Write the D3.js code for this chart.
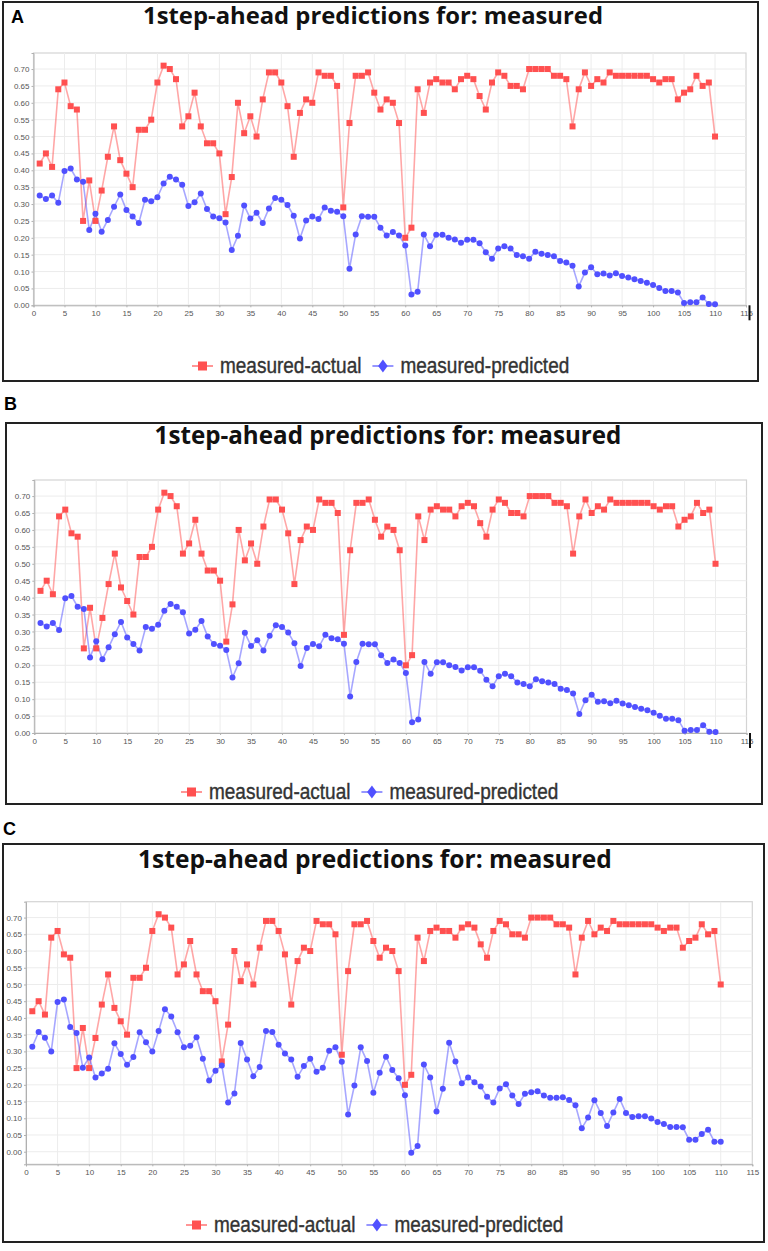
<!DOCTYPE html>
<html>
<head>
<meta charset="utf-8">
<script src="https://cdn.jsdelivr.net/npm/d3@7"></script>
<style>
  body { margin: 0; background: #fff; }
  svg { display: block; }
</style>
</head>
<body>
<div id="chart"></div>
<script>
// values, step 1..110
const measuredActual = [
  0.42, 0.45, 0.41, 0.64, 0.66, 0.59, 0.58, 0.25, 0.37, 0.25,
  0.34, 0.44, 0.53, 0.43, 0.39, 0.35, 0.52, 0.52, 0.55, 0.66,
  0.71, 0.70, 0.67, 0.53, 0.56, 0.63, 0.53, 0.48, 0.48, 0.45,
  0.27, 0.38, 0.60, 0.51, 0.56, 0.50, 0.61, 0.69, 0.69, 0.66,
  0.59, 0.44, 0.57, 0.61, 0.60, 0.69, 0.68, 0.68, 0.65, 0.29,
  0.54, 0.68, 0.68, 0.69, 0.63, 0.58, 0.61, 0.60, 0.54, 0.20,
  0.23, 0.64, 0.57, 0.66, 0.67, 0.66, 0.66, 0.64, 0.67, 0.68,
  0.67, 0.62, 0.58, 0.66, 0.69, 0.68, 0.65, 0.65, 0.64, 0.70,
  0.70, 0.70, 0.70, 0.68, 0.68, 0.67, 0.53, 0.64, 0.69, 0.65,
  0.67, 0.66, 0.69, 0.68, 0.68, 0.68, 0.68, 0.68, 0.68, 0.67,
  0.66, 0.67, 0.67, 0.61, 0.63, 0.64, 0.68, 0.65, 0.66, 0.50
];

const predictedA = [
  0.325, 0.315, 0.325, 0.304, 0.398, 0.405, 0.373, 0.366, 0.223, 0.271,
  0.218, 0.253, 0.292, 0.328, 0.282, 0.263, 0.244, 0.313, 0.308, 0.320,
  0.361, 0.381, 0.373, 0.357, 0.294, 0.305, 0.331, 0.285, 0.263, 0.258,
  0.245, 0.164, 0.206, 0.296, 0.257, 0.274, 0.244, 0.287, 0.318, 0.313,
  0.297, 0.265, 0.198, 0.251, 0.263, 0.256, 0.290, 0.280, 0.277, 0.264,
  0.108, 0.210, 0.264, 0.262, 0.262, 0.230, 0.207, 0.217, 0.207, 0.177,
  0.032, 0.040, 0.210, 0.175, 0.209, 0.209, 0.200, 0.195, 0.185, 0.194,
  0.194, 0.184, 0.157, 0.138, 0.168, 0.175, 0.168, 0.149, 0.145, 0.138,
  0.159, 0.153, 0.149, 0.145, 0.131, 0.127, 0.117, 0.056, 0.097, 0.113,
  0.092, 0.094, 0.088, 0.095, 0.087, 0.082, 0.077, 0.072, 0.067, 0.060,
  0.051, 0.042, 0.042, 0.038, 0.007, 0.009, 0.009, 0.023, 0.004, 0.003
];

// panel B shows the same predicted curve as panel A
const predictedB = predictedA;

const predictedC = [
  0.314, 0.358, 0.341, 0.300, 0.448, 0.455, 0.373, 0.355, 0.251, 0.282,
  0.222, 0.234, 0.248, 0.324, 0.292, 0.260, 0.283, 0.357, 0.327, 0.300,
  0.361, 0.426, 0.404, 0.357, 0.312, 0.317, 0.342, 0.278, 0.213, 0.242,
  0.258, 0.147, 0.174, 0.325, 0.276, 0.226, 0.253, 0.361, 0.358, 0.320,
  0.294, 0.276, 0.224, 0.256, 0.278, 0.239, 0.251, 0.302, 0.312, 0.269,
  0.111, 0.198, 0.312, 0.271, 0.176, 0.236, 0.284, 0.244, 0.220, 0.169,
  -0.003, 0.017, 0.261, 0.222, 0.120, 0.188, 0.326, 0.270, 0.205, 0.222,
  0.208, 0.195, 0.164, 0.147, 0.189, 0.202, 0.168, 0.143, 0.173, 0.178,
  0.181, 0.168, 0.161, 0.161, 0.163, 0.155, 0.139, 0.070, 0.102, 0.154,
  0.116, 0.077, 0.117, 0.158, 0.116, 0.104, 0.106, 0.106, 0.099, 0.089,
  0.083, 0.074, 0.074, 0.073, 0.036, 0.036, 0.053, 0.066, 0.030, 0.030
];

const xTicks = [0, 5, 10, 15, 20, 25, 30, 35, 40, 45, 50, 55, 60, 65, 70, 75, 80, 85, 90, 95, 100, 105, 110, 115];
const yTicks = [0.00, 0.05, 0.10, 0.15, 0.20, 0.25, 0.30, 0.35, 0.40, 0.45, 0.50, 0.55, 0.60, 0.65, 0.70];
const seriesNames = ["measured-actual", "measured-predicted"];
const titleText = "1step-ahead predictions for: measured";

const red = "#ff5050", blue = "#5050ff";

// layout of the three panels (pixels)
const panels = [
  { label: "A", predicted: predictedA, yMin: 0,
    box: [3, 2, 755, 379], plot: { x0: 33.5, x1: 746, yb: 305.3, yt: 53 },
    title: [373, 24, 460], lab: [11, 23], legend: [192, 366], bar: true },
  { label: "B", predicted: predictedB, yMin: 0,
    box: [6, 423, 756, 381], plot: { x0: 34.3, x1: 746.5, yb: 733, yt: 480 },
    title: [388, 444, 467], lab: [4, 410], legend: [181, 792], bar: true },
  { label: "C", predicted: predictedC, yMin: -0.0376,
    box: [3, 844, 761, 398], plot: { x0: 26, x1: 752.3, yb: 1164.3, yt: 901.7 },
    title: [375, 868, 474], lab: [3, 835], legend: [186, 1225], bar: false }
];

const svg = d3.select("#chart").append("svg")
    .attr("width", 768)
    .attr("height", 1251);

panels.forEach(p => {
  const g = svg.append("g");

  // panel frame
  g.append("rect")
      .attr("x", p.box[0]).attr("y", p.box[1])
      .attr("width", p.box[2]).attr("height", p.box[3])
      .attr("fill", "#fff").attr("stroke", "#222").attr("stroke-width", 2);

  // panel letter
  svg.append("text")
      .attr("x", p.lab[0]).attr("y", p.lab[1])
      .style("font-family", "Liberation Sans, Arial, sans-serif")
      .style("font-weight", "bold").style("font-size", "18px")
      .text(p.label);

  // title, sized to the width seen in the picture
  const title = g.append("text")
      .attr("x", p.title[0]).attr("y", p.title[1])
      .attr("text-anchor", "middle")
      .style("font-family", "Open Sans, sans-serif")
      .style("font-weight", "bold").style("font-size", "20px")
      .attr("fill", "#111")
      .text(titleText);
  const tw = title.node().getComputedTextLength();
  title.style("font-size", (20 * p.title[2] / tw).toFixed(2) + "px");

  const x = d3.scaleLinear().domain([0, 115]).range([p.plot.x0, p.plot.x1]);
  const y = d3.scaleLinear().domain([p.yMin, 0.7475]).range([p.plot.yb, p.plot.yt]);

  // plot background and grid
  g.append("rect")
      .attr("x", p.plot.x0).attr("y", p.plot.yt)
      .attr("width", p.plot.x1 - p.plot.x0).attr("height", p.plot.yb - p.plot.yt)
      .attr("fill", "#fff").attr("stroke", "#d4d4d4").attr("stroke-width", 1.2);

  g.append("g").selectAll("line").data(xTicks.slice(1, -1)).join("line")
      .attr("x1", d => x(d)).attr("x2", d => x(d))
      .attr("y1", p.plot.yt).attr("y2", p.plot.yb)
      .attr("stroke", "#ececec").attr("stroke-width", 1);
  g.append("g").selectAll("line").data(yTicks).join("line")
      .attr("x1", p.plot.x0).attr("x2", p.plot.x1)
      .attr("y1", d => y(d)).attr("y2", d => y(d))
      .attr("stroke", "#ececec").attr("stroke-width", 1);

  // axes
  const xAxis = g.append("g")
      .attr("transform", "translate(0," + p.plot.yb + ")")
      .call(d3.axisBottom(x).tickValues(xTicks).tickSize(2).tickPadding(3).tickFormat(d3.format("d")));
  const yAxis = g.append("g")
      .attr("transform", "translate(" + p.plot.x0 + ",0)")
      .call(d3.axisLeft(y).tickValues(yTicks).tickSize(2).tickPadding(2).tickFormat(d3.format(".2f")));
  [xAxis, yAxis].forEach(a => {
    a.select(".domain").attr("stroke", "#b0b0b0");
    a.selectAll(".tick line").attr("stroke", "#b0b0b0");
    a.selectAll(".tick text")
        .attr("fill", "#555")
        .style("font-family", "Liberation Sans, Arial, sans-serif")
        .style("font-size", "8px");
  });

  if (p.bar) {
    g.append("line")
        .attr("x1", x(115) + 3.5).attr("x2", x(115) + 3.5)
        .attr("y1", p.plot.yb).attr("y2", p.plot.yb + 15)
        .attr("stroke", "#111").attr("stroke-width", 2);
  }

  const line = d3.line().x((d, i) => x(i + 1)).y(d => y(d));

  // actual series
  g.append("path").datum(measuredActual)
      .attr("d", line).attr("fill", "none")
      .attr("stroke", red).attr("stroke-opacity", 0.5).attr("stroke-width", 1.6);
  // predicted series
  g.append("path").datum(p.predicted)
      .attr("d", line).attr("fill", "none")
      .attr("stroke", blue).attr("stroke-opacity", 0.5).attr("stroke-width", 1.6);

  g.append("g").selectAll("rect").data(measuredActual).join("rect")
      .attr("x", (d, i) => x(i + 1) - 3).attr("y", d => y(d) - 3)
      .attr("width", 6).attr("height", 6)
      .attr("fill", red);
  g.append("g").selectAll("circle").data(p.predicted).join("circle")
      .attr("cx", (d, i) => x(i + 1)).attr("cy", d => y(d))
      .attr("r", 3).attr("fill", blue);

  // legend
  const lg = g.append("g").attr("transform", "translate(" + p.legend[0] + "," + p.legend[1] + ")");
  let cx = 0;
  seriesNames.forEach((name, k) => {
    const col = k === 0 ? red : blue;
    lg.append("line")
        .attr("x1", cx).attr("x2", cx + 21).attr("y1", 0).attr("y2", 0)
        .attr("stroke", col).attr("stroke-opacity", 0.6).attr("stroke-width", 2);
    if (k === 0) {
      lg.append("rect").attr("x", cx + 6).attr("y", -4.5).attr("width", 9).attr("height", 9).attr("fill", col);
    } else {
      lg.append("path")
          .attr("d", d3.symbol(d3.symbolDiamond, 60)())
          .attr("transform", "translate(" + (cx + 10.5) + ",0) scale(1.15,0.9)")
          .attr("fill", col);
    }
    const t = lg.append("text")
        .attr("transform", "translate(" + (cx + 28) + ",6.5) scale(1,1.12)")
        .style("font-family", "Liberation Sans, Arial, sans-serif")
        .style("font-size", "19px")
        .attr("fill", "#333")
        .attr("stroke", "#333").attr("stroke-width", 0.35)
        .text(name);
    cx += 28 + t.node().getComputedTextLength() + 11;
  });
});
</script>
</body>
</html>
